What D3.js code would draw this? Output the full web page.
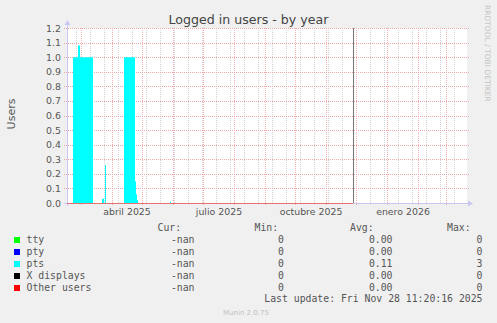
<!DOCTYPE html>
<html>
<head>
<meta charset="utf-8">
<script src="https://cdn.jsdelivr.net/npm/d3@7"></script>
<style>
  body { margin: 0; background: #f0f0f0; }
  svg { display: block; }
</style>
</head>
<body>
<div id="chart"></div>
<script>
// data
const series = ['tty', 'pty', 'pts', 'X displays', 'Other users'];
const seriesColors = ['#00ff00', '#0000ff', '#00ffff', '#000000', '#ff0000'];
const curValues = ['-nan', '-nan', '-nan', '-nan', '-nan'];
const minValues = ['0', '0', '0', '0', '0'];
const avgValues = ['0.00', '0.00', '0.11', '0.00', '0.00'];
const maxValues = ['0', '0', '3', '0', '0'];

// pts daily averages (step changes)
const ptsDates = ['2025-02-15', '2025-02-21', '2025-02-26', '2025-02-28', '2025-03-13',
  '2025-03-22', '2025-03-24', '2025-03-25', '2025-03-26', '2025-04-13', '2025-04-24',
  '2025-04-25', '2025-04-26', '2025-04-27', '2025-05-29', '2025-05-30', '2025-11-28'];
const ptsValues = [0, 1.0, 1.08, 1.0, 0, 0.03, 0, 0.26, 0, 1.0, 0.15, 0.06, 0.02, 0, 0.01, 0, 0];

// zero line of the other series, where data exists
const otherDates = ['2025-02-15', '2025-11-28'];
const otherValues = [0, 0];

const yTicks = [0, 0.1, 0.2, 0.3, 0.4, 0.5, 0.6, 0.7, 0.8, 0.9, 1.0, 1.1, 1.2];
const xLabels = ['abril 2025', 'julio 2025', 'octubre 2025', 'enero 2026'];
const xLabelDates = ['2025-04-16', '2025-07-17', '2025-10-17', '2026-01-17'];

const timeRange = ['2025-02-15', '2026-03-22'];
const nowDate = '2025-11-28';
const minorGridStart = '2025-02-24';

const parse = d3.utcParse('%Y-%m-%d');

const s = {
  width: 497,
  height: 323,
  left: 67, right: 467, top: 28, bottom: 203,
  sans: 'DejaVu Sans, sans-serif',
  mono: 'DejaVu Sans Mono, monospace',
  text: '#555555'
};

const svg = d3.select('#chart').append('svg')
  .attr('width', s.width)
  .attr('height', s.height);

svg.append('rect')
  .attr('width', s.width).attr('height', s.height)
  .attr('fill', '#f0f0f0');

const x = d3.scaleUtc()
  .domain(timeRange.map(parse))
  .range([s.left, s.right]);
const y = d3.scaleLinear()
  .domain([0, 1.2])
  .range([s.bottom, s.top]);

// canvas
svg.append('rect')
  .attr('x', s.left).attr('y', s.top)
  .attr('width', s.right - s.left).attr('height', s.bottom - s.top + 1)
  .attr('fill', '#ffffff');

// minor grid: every two weeks
const grid = svg.append('g').attr('class', 'grid');
const minorDays = d3.utcDay.range(parse(minorGridStart), x.domain()[1], 14);
grid.selectAll('.minor')
  .data(minorDays)
  .join('line')
  .attr('class', 'minor')
  .attr('x1', d => Math.round(x(d)) + 0.5)
  .attr('x2', d => Math.round(x(d)) + 0.5)
  .attr('y1', s.top).attr('y2', s.bottom)
  .style('stroke', '#d4d4d4')
  .style('stroke-dasharray', '1,1');

// major grid: months
const months = d3.utcMonth.range(x.domain()[0], x.domain()[1]);
grid.selectAll('.major')
  .data(months)
  .join('line')
  .attr('class', 'major')
  .attr('x1', d => Math.round(x(d)) + 0.5)
  .attr('x2', d => Math.round(x(d)) + 0.5)
  .attr('y1', s.top).attr('y2', s.bottom + 3)
  .style('stroke', '#f0b0b0')
  .style('stroke-dasharray', '1,1');

grid.selectAll('.hgrid')
  .data(yTicks)
  .join('line')
  .attr('class', 'hgrid')
  .attr('x1', s.left - 3).attr('x2', s.right + 2)
  .attr('y1', d => Math.round(y(d)) + 0.5)
  .attr('y2', d => Math.round(y(d)) + 0.5)
  .style('stroke', '#eca8a8')
  .style('stroke-dasharray', '1,1');

// pts area
const ptsData = ptsDates.map((d, i) => ({date: parse(d), value: ptsValues[i]}));
const area = d3.area()
  .curve(d3.curveStepAfter)
  .x(d => x(d.date))
  .y0(y(0))
  .y1(d => y(d.value));
svg.append('path')
  .datum(ptsData)
  .attr('d', area)
  .attr('fill', seriesColors[2]);

// axes
const axisColor = '#c8c8f0';
svg.append('line')
  .attr('x1', s.left + 0.5).attr('x2', s.left + 0.5)
  .attr('y1', s.bottom + 3).attr('y2', 24)
  .style('stroke', axisColor);
svg.append('path')
  .attr('d', `M${s.left - 2.5},${25} L${s.left + 0.5},${20} L${s.left + 3.5},${25} Z`)
  .attr('fill', axisColor);
svg.append('line')
  .attr('x1', s.left - 3).attr('x2', s.right + 3)
  .attr('y1', s.bottom + 0.5).attr('y2', s.bottom + 0.5)
  .style('stroke', axisColor);
svg.append('path')
  .attr('d', `M${s.right + 1},${s.bottom - 2.5} L${s.right + 6},${s.bottom + 0.5} L${s.right + 1},${s.bottom + 3.5} Z`)
  .attr('fill', axisColor);

// other users zero line
const otherData = otherDates.map((d, i) => ({date: parse(d), value: otherValues[i]}));
svg.append('path')
  .datum(otherData)
  .attr('d', d3.line().x(d => x(d.date)).y(d => Math.round(y(d.value)) + 0.5))
  .style('fill', 'none')
  .style('stroke', '#e87070');

// now marker
const nowX = Math.ceil(x(parse(nowDate))) + 0.5;
svg.append('line')
  .attr('x1', nowX).attr('x2', nowX)
  .attr('y1', s.top).attr('y2', s.bottom)
  .style('stroke', '#7a7a7a');

// tick labels
svg.append('g').selectAll('text')
  .data(yTicks)
  .join('text')
  .attr('x', 61)
  .attr('y', d => y(d) + 3.5)
  .attr('text-anchor', 'end')
  .style('font-family', s.sans)
  .style('font-size', '9.4px')
  .style('fill', s.text)
  .text(d => d.toFixed(1));

svg.append('g').selectAll('text')
  .data(xLabels)
  .join('text')
  .attr('x', (d, i) => x(parse(xLabelDates[i])))
  .attr('y', 215)
  .attr('text-anchor', 'middle')
  .style('font-family', s.sans)
  .style('font-size', '9.4px')
  .style('fill', s.text)
  .text(d => d);

// title
svg.append('text')
  .attr('x', 248.5)
  .attr('y', 24)
  .attr('text-anchor', 'middle')
  .style('font-family', s.sans)
  .style('font-size', '12.6px')
  .style('fill', '#444444')
  .text('Logged in users - by year');

svg.append('text')
  .attr('transform', 'translate(15, 114) rotate(-90)')
  .attr('text-anchor', 'middle')
  .style('font-family', s.sans)
  .style('font-size', '11px')
  .style('fill', s.text)
  .text('Users');

svg.append('text')
  .attr('transform', 'translate(485, 5) rotate(90)')
  .style('font-family', s.sans)
  .style('font-size', '7.5px')
  .style('fill', '#c4c4c4')
  .text('RRDTOOL / TOBI OETIKER');

// legend
const legend = svg.append('g')
  .style('font-family', s.mono)
  .style('font-size', '9.8px')
  .style('fill', s.text);

const headers = [['Cur:', 157.5], ['Min:', 254.5], ['Avg:', 350], ['Max:', 447]];
legend.selectAll('.hdr')
  .data(headers)
  .join('text')
  .attr('class', 'hdr')
  .attr('x', d => d[1])
  .attr('y', 231)
  .text(d => d[0]);

const rows = legend.selectAll('.row')
  .data(series)
  .join('g')
  .attr('class', 'row')
  .attr('transform', (d, i) => `translate(0, ${243 + i * 12})`);

rows.append('rect')
  .attr('x', 14).attr('y', -6)
  .attr('width', 6).attr('height', 6)
  .attr('fill', (d, i) => seriesColors[i]);
rows.append('text')
  .attr('x', 26.5)
  .text(d => d);
rows.append('text')
  .attr('x', 194.5).attr('text-anchor', 'end')
  .text((d, i) => curValues[i]);
rows.append('text')
  .attr('x', 284).attr('text-anchor', 'end')
  .text((d, i) => minValues[i]);
rows.append('text')
  .attr('x', 392.5).attr('text-anchor', 'end')
  .text((d, i) => avgValues[i]);
rows.append('text')
  .attr('x', 482.5).attr('text-anchor', 'end')
  .text((d, i) => maxValues[i]);

legend.append('text')
  .attr('x', 482.5)
  .attr('y', 302)
  .attr('text-anchor', 'end')
  .text('Last update: Fri Nov 28 11:20:16 2025');

svg.append('text')
  .attr('x', 246)
  .attr('y', 315)
  .attr('text-anchor', 'middle')
  .style('font-family', s.sans)
  .style('font-size', '7px')
  .style('fill', '#c0c0c0')
  .text('Munin 2.0.75');
</script>
</body>
</html>
